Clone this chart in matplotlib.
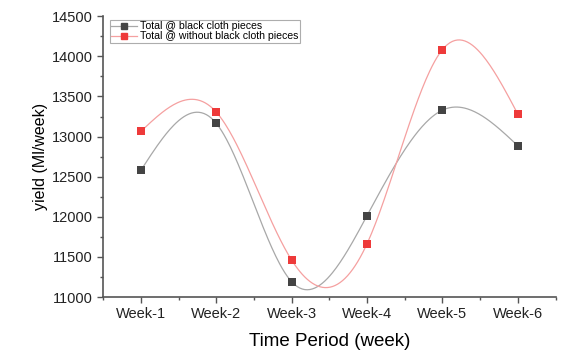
import numpy as np
import matplotlib.pyplot as plt

plt.rcParams['font.family'] = ['Liberation Sans', 'DejaVu Sans']

weeks = ["Week-1", "Week-2", "Week-3", "Week-4", "Week-5", "Week-6"]
black_cloth = [12580, 13165, 11190, 12015, 13330, 12885]
without_black = [13065, 13305, 11460, 11665, 14085, 13280]


def natural_spline(x, y, n=300):
    # plain natural cubic spline, no scipy needed
    x = np.asarray(x, float)
    y = np.asarray(y, float)
    k = len(x)
    h = np.diff(x)
    A = np.zeros((k, k))
    b = np.zeros(k)
    A[0, 0] = A[-1, -1] = 1
    for i in range(1, k - 1):
        A[i, i - 1] = h[i - 1]
        A[i, i] = 2 * (h[i - 1] + h[i])
        A[i, i + 1] = h[i]
        b[i] = 3 * ((y[i + 1] - y[i]) / h[i] - (y[i] - y[i - 1]) / h[i - 1])
    c = np.linalg.solve(A, b)
    xs = np.linspace(x[0], x[-1], n)
    idx = np.clip(np.searchsorted(x, xs) - 1, 0, k - 2)
    dx = xs - x[idx]
    bb = (y[idx + 1] - y[idx]) / h[idx] - h[idx] * (2 * c[idx] + c[idx + 1]) / 3
    dd = (c[idx + 1] - c[idx]) / (3 * h[idx])
    ys = y[idx] + bb * dx + c[idx] * dx ** 2 + dd * dx ** 3
    return xs, ys


x = np.arange(1, len(weeks) + 1)

fig = plt.figure(figsize=(5.64, 3.54), dpi=100)
ax = fig.add_axes([0.183, 0.161, 0.802, 0.793])

xs, ys = natural_spline(x, black_cloth)
ax.plot(xs, ys, color='#a8a8a8', lw=0.9)
xs, ys = natural_spline(x, without_black)
ax.plot(xs, ys, color='#f5a0a0', lw=0.9)

ax.plot(x, black_cloth, 's', color='#444444', ms=5.5, mew=0)
ax.plot(x, without_black, 's', color='#ee3a3a', ms=5.5, mew=0)

# legend handles: line + marker
h1, = ax.plot([], [], '-s', color='#a8a8a8', mfc='#444444', mec='#444444', ms=5, lw=0.9,
              label='Total @ black cloth pieces')
h2, = ax.plot([], [], '-s', color='#f5a0a0', mfc='#ee3a3a', mec='#ee3a3a', ms=5, lw=0.9,
              label='Total @ without black cloth pieces')
leg = ax.legend(handles=[h1, h2], loc='upper left', bbox_to_anchor=(0.01, 0.995),
                fontsize=7.6, frameon=True, fancybox=False, handlelength=2.4,
                handletextpad=0.3, borderpad=0.15, labelspacing=0.0,
                borderaxespad=0.2)
leg.get_frame().set_edgecolor('#999999')
leg.get_frame().set_linewidth(0.8)

ax.set_xlim(0.5, 6.5)
ax.set_ylim(11000, 14500)
ax.set_xticks(x)
ax.set_xticklabels(weeks)
ax.set_xticks(np.arange(0.5, 7, 1), minor=True)
ax.set_yticks(np.arange(11000, 14501, 500))
ax.set_yticks(np.arange(11250, 14500, 500), minor=True)

for s in ['top', 'right']:
    ax.spines[s].set_visible(False)
for s in ['left', 'bottom']:
    ax.spines[s].set_color('#555555')
    ax.spines[s].set_linewidth(1.2)

ax.tick_params(which='major', direction='out', length=4, width=1, color='#555555',
               labelsize=10.5, labelcolor='#222222')
ax.tick_params(which='minor', direction='out', length=2.5, width=1, color='#555555')

ax.set_xlabel('Time Period (week)', fontsize=13.5, labelpad=8)
ax.set_ylabel('yield (Ml/week)', fontsize=11.5, labelpad=3)

fig.savefig('out.png', dpi=100)
